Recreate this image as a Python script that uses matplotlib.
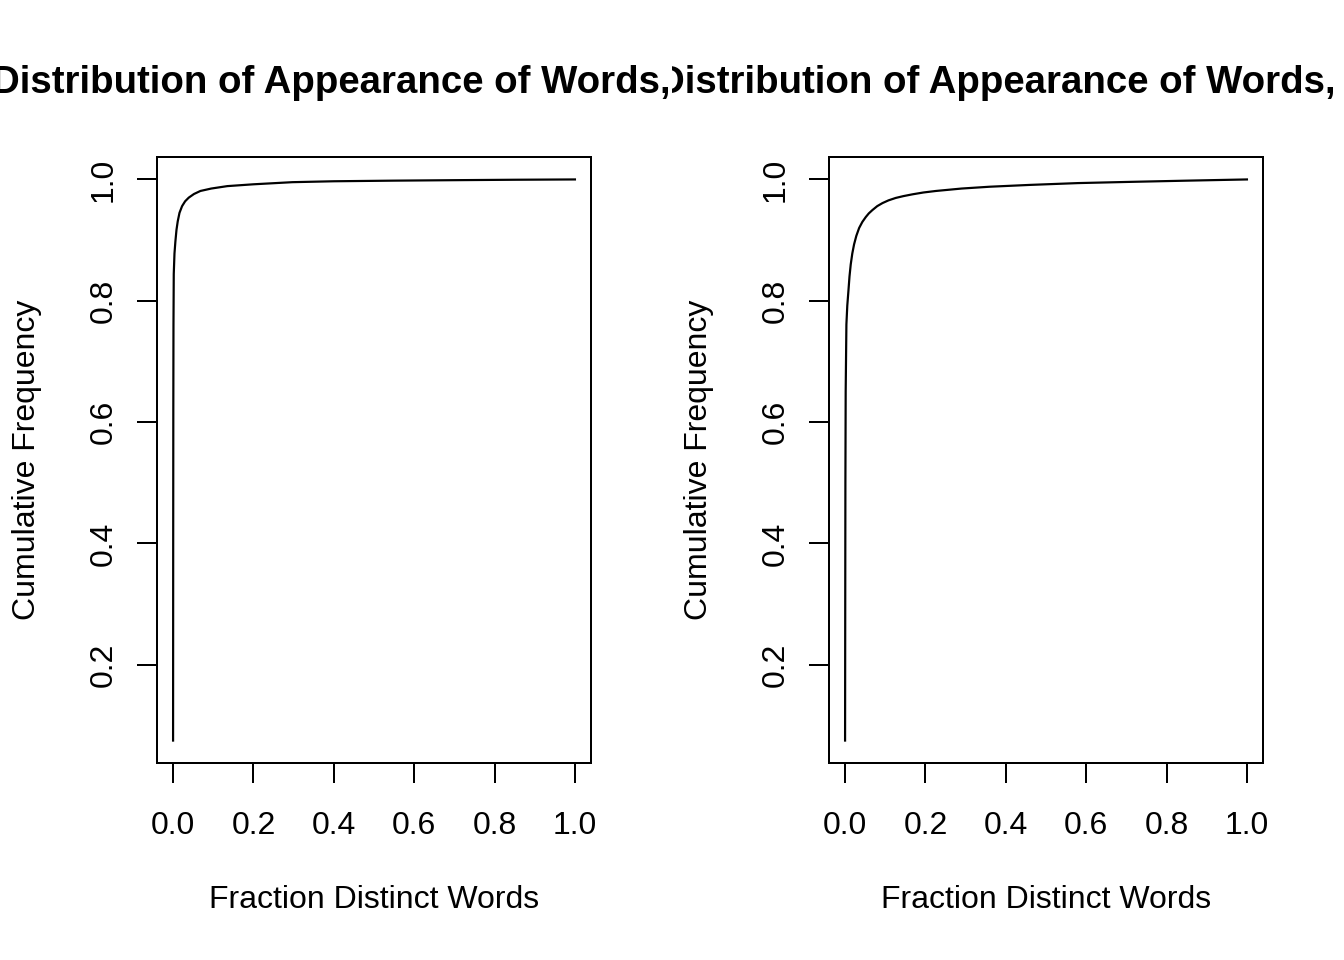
import numpy as np
import matplotlib
matplotlib.use('Agg')
import matplotlib.pyplot as plt
from matplotlib.transforms import Bbox, TransformedBbox

plt.rcParams['font.family'] = ['Liberation Sans', 'DejaVu Sans']

# values (fraction of distinct words vs cumulative frequency)
left_x = [0.0, 0.0003, 0.0006, 0.001, 0.0017, 0.0035, 0.0058, 0.0085, 0.0116, 0.016,
          0.0224, 0.03, 0.039, 0.052, 0.068, 0.095, 0.135, 0.2, 0.297, 0.4, 0.546,
          0.7, 0.85, 1.0]
left_y = [0.075, 0.40, 0.62, 0.76, 0.844, 0.878, 0.898, 0.917, 0.931, 0.945,
          0.956, 0.964, 0.970, 0.976, 0.981, 0.985, 0.989, 0.992, 0.9955, 0.997, 0.998,
          0.9988, 0.9995, 1.0]

right_x = [0.0, 0.0004, 0.0008, 0.0015, 0.0033, 0.0055, 0.0083, 0.011, 0.0141, 0.018,
           0.0224, 0.028, 0.035, 0.043, 0.0515, 0.059, 0.068, 0.08, 0.093, 0.108, 0.126,
           0.145, 0.168, 0.195, 0.226, 0.29, 0.36, 0.46, 0.58, 0.71, 0.85, 1.0]
right_y = [0.075, 0.30, 0.50, 0.65, 0.761, 0.792, 0.816, 0.840, 0.860, 0.878,
           0.893, 0.907, 0.920, 0.930, 0.938, 0.944, 0.9495, 0.956, 0.961, 0.9655, 0.9695,
           0.9725, 0.9755, 0.9785, 0.981, 0.985, 0.988, 0.991, 0.994, 0.996, 0.998, 1.0]

titles = ['Distribution of Appearance of Words, Ham',
          'Distribution of Appearance of Words, Spam']
xlab = 'Fraction Distinct Words'
ylab = 'Cumulative Frequency'
xticks = [0.0, 0.2, 0.4, 0.6, 0.8, 1.0]
yticks = [0.2, 0.4, 0.6, 0.8, 1.0]

W, H = 1344, 960
fig = plt.figure(figsize=(W / 144, H / 144), dpi=144)

panels = [(left_x, left_y), (right_x, right_y)]
lefts = [157, 829]
title_shift = [4, 8]
for i, (xs, ys) in enumerate(panels):
    l = lefts[i]
    ax = fig.add_axes([l / W, (H - 763) / H, 434 / W, 606 / H])
    ax.plot(xs, ys, color='black', lw=1.1)
    ax.set_xlim(-0.04, 1.04)
    ax.set_ylim(0.075 - 0.04 * 0.925, 1.0 + 0.04 * 0.925)
    ax.set_xticks(xticks)
    ax.set_xticklabels(['%.1f' % v for v in xticks])
    ax.set_yticks(yticks)
    ax.set_yticklabels(['%.1f' % v for v in yticks], rotation=90, va='center')
    ax.tick_params(direction='out', length=10, width=1, labelsize=16, pad=14)
    ax.tick_params(axis='y', pad=9)
    for s in ax.spines.values():
        s.set_linewidth(1)

    cx = (l + 217) / W
    fig.text(cx, 1 - 900 / H, xlab, ha='center', va='center', fontsize=16)
    fig.text((l - 130) / W, 1 - 460 / H, ylab, ha='center', va='center',
             rotation=90, fontsize=16)
    # titles overflow their half of the figure and get cut, as in the reference
    t = fig.text((l + 217 + title_shift[i]) / W, 1 - 93 / H, titles[i],
                 ha='center', va='baseline', fontsize=19.2, fontweight='bold')
    t.set_clip_on(True)
    t.set_clip_box(TransformedBbox(Bbox([[i * 0.5, 0], [i * 0.5 + 0.5, 1]]),
                                   fig.transFigure))

fig.savefig('out.png', dpi=144, facecolor='white')
